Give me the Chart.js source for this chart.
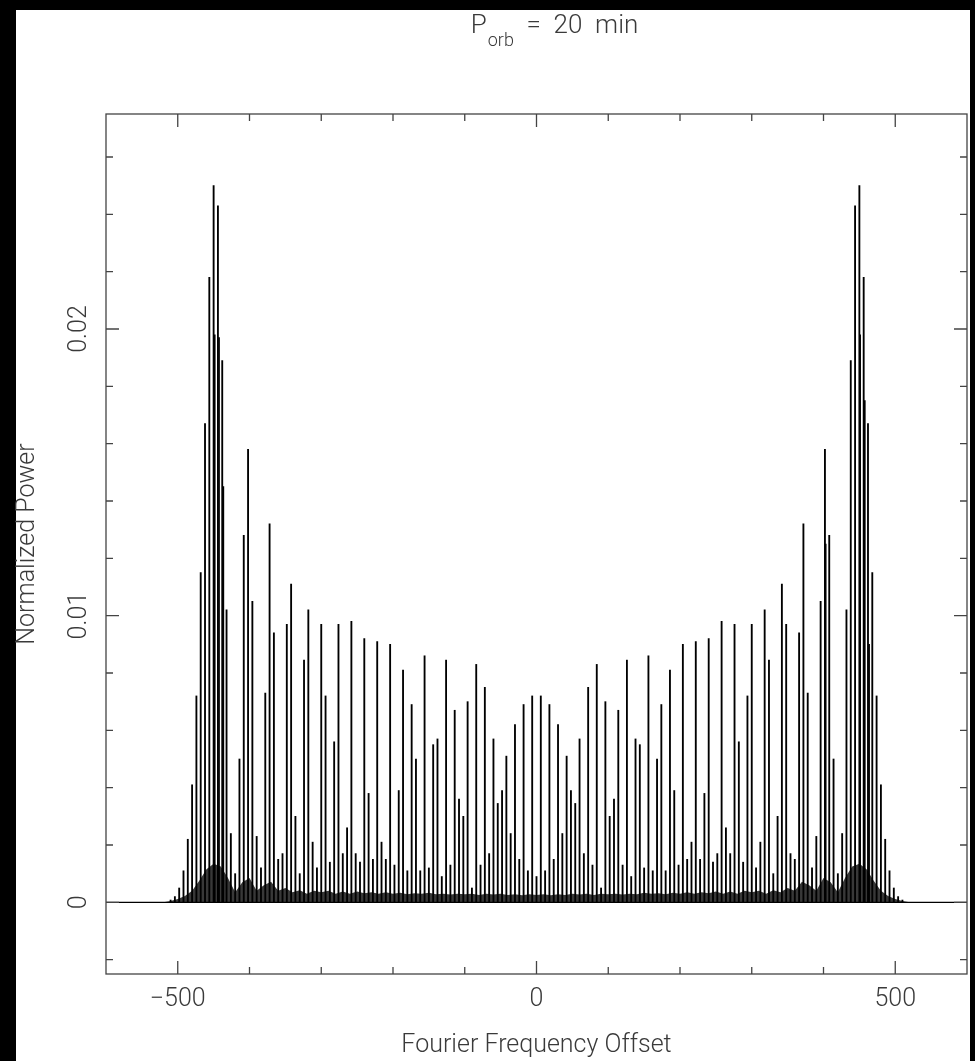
<!DOCTYPE html>
<html lang="en">

<head>
    <meta charset="UTF-8">
    <title>P_orb = 20 min</title>
    <script src="https://cdn.jsdelivr.net/npm/chart.js@4.4.0/dist/chart.umd.min.js"></script>
    <style>
        html, body {
            margin: 0;
            padding: 0;
            background: #000;
        }
        .graph-container {
            width: 975px;
            height: 1061px;
        }
    </style>
</head>

<body>
    <div class="graph-container">
        <canvas id="myChart" width="975" height="1061"></canvas>
    </div>

    <script>
        // sideband frequencies (Fourier frequency offset)
        const sidebandFreq = [
            -510, -504, -498, -492, -486, -480, -474, -468, -462, -456,
            -450, -444, -438, -432, -426, -420, -414, -408, -402, -396,
            -390, -384, -378, -372, -366, -360, -354, -348, -342, -336,
            -330, -324, -318, -312, -306, -300, -294, -288, -282, -276,
            -270, -264, -258, -252, -246, -240, -234, -228, -222, -216,
            -210, -204, -198, -192, -186, -180, -174, -168, -162, -156,
            -150, -144, -138, -132, -126, -120, -114, -108, -102, -96,
            -90, -84, -78, -72, -66, -60, -54, -48, -42, -36,
            -30, -24, -18, -12, -6, 0, 6, 12, 18, 24,
            30, 36, 42, 48, 54, 60, 66, 72, 78, 84,
            90, 96, 102, 108, 114, 120, 126, 132, 138, 144,
            150, 156, 162, 168, 174, 180, 186, 192, 198, 204,
            210, 216, 222, 228, 234, 240, 246, 252, 258, 264,
            270, 276, 282, 288, 294, 300, 306, 312, 318, 324,
            330, 336, 342, 348, 354, 360, 366, 372, 378, 384,
            390, 396, 402, 408, 414, 420, 426, 432, 438, 444,
            450, 456, 462, 468, 474, 480, 486, 492, 498, 504,
            510
        ];
        const sidebandPower = [
            0.00008, 0.0002, 0.0005, 0.0011, 0.0022, 0.0041, 0.0072, 0.0115, 0.0167, 0.0218,
            0.0250, 0.0243, 0.0189, 0.0102, 0.0024, 0.0010, 0.0050, 0.0128, 0.0158, 0.0105,
            0.0023, 0.0012, 0.0073, 0.0132, 0.0094, 0.0015, 0.0017, 0.0097, 0.0111, 0.0030,
            0.0010, 0.00845, 0.0102, 0.0021, 0.0012, 0.0097, 0.0072, 0.0014, 0.0056, 0.0097,
            0.0017, 0.0026, 0.0098, 0.0017, 0.0014, 0.0092, 0.0038, 0.0015, 0.0091, 0.0021,
            0.0015, 0.0090, 0.0013, 0.0039, 0.0081, 0.0011, 0.0069, 0.0050, 0.0011, 0.0086,
            0.0012, 0.0055, 0.0057, 0.0009, 0.00845, 0.0013, 0.0067, 0.0036, 0.0030, 0.0070,
            0.0005, 0.0083, 0.0013, 0.0075, 0.0017, 0.0057, 0.00345, 0.0039, 0.0051, 0.0024,
            0.0062, 0.0015, 0.0069, 0.0011, 0.0072, 0.0009, 0.0072, 0.0011, 0.0069, 0.0015,
            0.0062, 0.0024, 0.0051, 0.0039, 0.00345, 0.0057, 0.0017, 0.0075, 0.0013, 0.0083,
            0.0005, 0.0070, 0.0030, 0.0036, 0.0067, 0.0013, 0.00845, 0.0009, 0.0057, 0.0055,
            0.0012, 0.0086, 0.0011, 0.0050, 0.0069, 0.0011, 0.0081, 0.0039, 0.0013, 0.0090,
            0.0015, 0.0021, 0.0091, 0.0015, 0.0038, 0.0092, 0.0014, 0.0017, 0.0098, 0.0026,
            0.0017, 0.0097, 0.0056, 0.0014, 0.0072, 0.0097, 0.0012, 0.0021, 0.0102, 0.00845,
            0.0010, 0.0030, 0.0111, 0.0097, 0.0017, 0.0015, 0.0094, 0.0132, 0.0073, 0.0012,
            0.0023, 0.0105, 0.0158, 0.0128, 0.0050, 0.0010, 0.0024, 0.0102, 0.0189, 0.0243,
            0.0250, 0.0218, 0.0167, 0.0115, 0.0072, 0.0041, 0.0022, 0.0011, 0.0005, 0.0002,
            0.00008
        ];

        // second lines sitting right next to the strongest sidebands
        const splitFreq = [-448.5, -442.5, -436.5, 403, 451, 457.5, 463.5];
        const splitPower = [0.0198, 0.0197, 0.0145, 0.0125, 0.0198, 0.0175, 0.0090];

        // dense low-level clutter along the base
        const noiseFreq = [
            -520, -510, -500, -490, -480, -470, -460, -450, -440, -430,
            -420, -410, -400, -390, -380, -370, -360, -350, -340, -330,
            -320, -310, -300, -290, -280, -270, -260, -250, -240, -230,
            -220, -210, -200, -190, -180, -170, -160, -150, -140, -130,
            -120, -110, -100, -90, -80, -70, -60, -50, -40, -30,
            -20, -10, 0, 10, 20, 30, 40, 50, 60, 70,
            80, 90, 100, 110, 120, 130, 140, 150, 160, 170,
            180, 190, 200, 210, 220, 230, 240, 250, 260, 270,
            280, 290, 300, 310, 320, 330, 340, 350, 360, 370,
            380, 390, 400, 410, 420, 430, 440, 450, 460, 470,
            480, 490, 500, 510, 520
        ];
        const noisePower = [
            0, 0.00005, 0.00012, 0.00022, 0.0004, 0.00075, 0.00115, 0.00135, 0.00125, 0.00085,
            0.00035, 0.0007, 0.00085, 0.0004, 0.0006, 0.00072, 0.0004, 0.0005, 0.00035, 0.00042,
            0.0003, 0.0004, 0.00035, 0.0004, 0.0003, 0.00038, 0.0003, 0.00038, 0.00032, 0.00035,
            0.0003, 0.00035, 0.0003, 0.00033, 0.00028, 0.00032, 0.0003, 0.00033, 0.00028, 0.0003,
            0.00027, 0.0003, 0.00028, 0.0003, 0.00026, 0.0003, 0.00027, 0.0003, 0.00026, 0.00028,
            0.00025, 0.00028, 0.00026, 0.00028, 0.00025, 0.00028, 0.00026, 0.0003, 0.00027, 0.0003,
            0.00026, 0.0003, 0.00028, 0.0003, 0.00027, 0.0003, 0.00028, 0.00033, 0.0003, 0.00032,
            0.00028, 0.00033, 0.0003, 0.00035, 0.0003, 0.00035, 0.00032, 0.00038, 0.0003, 0.00038,
            0.0003, 0.0004, 0.00035, 0.0004, 0.0003, 0.00042, 0.00035, 0.0005, 0.0004, 0.00072,
            0.0006, 0.0004, 0.00085, 0.0007, 0.00035, 0.00085, 0.00125, 0.00135, 0.00115, 0.00075,
            0.0004, 0.00022, 0.00012, 0.00005, 0
        ];

        // axes
        const xRange = [-600, 600];
        const yRange = [-0.0025, 0.0275];
        const xMajorTicks = [-500, 0, 500];
        const xTickLabels = ['\u2212500', '0', '500'];
        const xMinorTicks = [-400, -300, -200, -100, 100, 200, 300, 400];
        const yMajorTicks = [0, 0.01, 0.02];
        const yTickLabels = ['0', '0.01', '0.02'];
        const yMinorTicks = [-0.002, 0.002, 0.004, 0.006, 0.008, 0.012, 0.014, 0.016, 0.018, 0.022, 0.024, 0.026];
        const xTitle = 'Fourier Frequency Offset';
        const yTitle = 'Normalized Power';

        const FONT = '"Roboto", "Liberation Sans", sans-serif';
        const TEXT_COLOR = '#3a3a3a';

        const toPoints = (xs, ys) => xs.map((x, i) => ({ x: x, y: ys[i] }));

        const framePlugin = {
            id: 'pgFrame',
            beforeDraw(chart) {
                const c = chart.ctx;
                c.save();
                c.fillStyle = '#000';
                c.fillRect(0, 0, chart.width, chart.height);
                c.fillStyle = '#fff';
                c.fillRect(16, 10, 954, chart.height - 10);
                c.restore();
            },
            afterDraw(chart) {
                const c = chart.ctx;
                const a = chart.chartArea;
                const xs = chart.scales.x;
                const ys = chart.scales.y;
                c.save();
                c.strokeStyle = '#444';
                c.lineWidth = 1.3;
                c.strokeRect(a.left, a.top, a.right - a.left, a.bottom - a.top);

                c.beginPath();
                const xTick = (v, len) => {
                    const px = xs.getPixelForValue(v);
                    c.moveTo(px, a.bottom); c.lineTo(px, a.bottom - len);
                    c.moveTo(px, a.top); c.lineTo(px, a.top + len);
                };
                const yTick = (v, len) => {
                    const py = ys.getPixelForValue(v);
                    c.moveTo(a.left, py); c.lineTo(a.left + len, py);
                    c.moveTo(a.right, py); c.lineTo(a.right - len, py);
                };
                xMajorTicks.forEach(v => xTick(v, 13));
                xMinorTicks.forEach(v => xTick(v, 7));
                yMajorTicks.forEach(v => yTick(v, 13));
                yMinorTicks.forEach(v => yTick(v, 7));
                c.stroke();

                c.fillStyle = TEXT_COLOR;
                c.font = '300 25px ' + FONT;
                c.textAlign = 'center';
                c.textBaseline = 'middle';
                xMajorTicks.forEach((v, i) => {
                    c.fillText(xTickLabels[i], xs.getPixelForValue(v), 1000);
                });
                yMajorTicks.forEach((v, i) => {
                    c.save();
                    c.translate(80, ys.getPixelForValue(v));
                    c.rotate(-Math.PI / 2);
                    c.fillText(yTickLabels[i], 0, 0);
                    c.restore();
                });

                const midX = (a.left + a.right) / 2;
                const midY = (a.top + a.bottom) / 2;
                c.fillText(xTitle, midX, 1046);
                c.save();
                c.translate(28, midY);
                c.rotate(-Math.PI / 2);
                c.fillText(yTitle, 0, 0);
                c.restore();

                // title: P_orb = 20 min
                c.textAlign = 'left';
                c.textBaseline = 'alphabetic';
                const bigFont = '300 26px ' + FONT;
                const subFont = '300 18px ' + FONT;
                c.font = bigFont;
                const wP = c.measureText('P').width;
                const rest = '  =  20  min';
                const wRest = c.measureText(rest).width;
                c.font = subFont;
                const wSub = c.measureText('orb').width;
                let x0 = 554 - (wP + wSub + wRest) / 2;
                c.font = bigFont;
                c.fillText('P', x0, 33);
                c.font = subFont;
                c.fillText('orb', x0 + wP + 1, 46);
                c.font = bigFont;
                c.fillText(rest, x0 + wP + wSub + 1, 33);
                c.restore();
            }
        };

        const ctx = document.getElementById('myChart').getContext('2d');
        const chart = new Chart(ctx, {
            type: 'bar',
            data: {
                datasets: [
                    {
                        type: 'bar',
                        label: 'sidebands',
                        data: toPoints(sidebandFreq, sidebandPower),
                        backgroundColor: '#000',
                        barThickness: 1.2,
                        grouped: false,
                        order: 1
                    },
                    {
                        type: 'bar',
                        label: 'split lines',
                        data: toPoints(splitFreq, splitPower),
                        backgroundColor: '#000',
                        barThickness: 1.1,
                        grouped: false,
                        order: 2
                    },
                    {
                        type: 'line',
                        label: 'noise',
                        data: toPoints(noiseFreq, noisePower),
                        fill: 'origin',
                        backgroundColor: 'rgba(0,0,0,0.78)',
                        borderWidth: 0,
                        pointRadius: 0,
                        tension: 0,
                        order: 3
                    },
                    {
                        type: 'line',
                        label: 'baseline',
                        data: toPoints(xRange, [0, 0]),
                        borderColor: '#000',
                        borderWidth: 1.4,
                        pointRadius: 0,
                        order: 4
                    }
                ]
            },
            options: {
                responsive: false,
                animation: false,
                devicePixelRatio: 1,
                layout: {
                    padding: { left: 106, top: 114, right: 8, bottom: 87 }
                },
                plugins: {
                    legend: { display: false },
                    tooltip: { enabled: false },
                    title: { display: false }
                },
                scales: {
                    x: {
                        type: 'linear',
                        display: false,
                        offset: false,
                        min: xRange[0],
                        max: xRange[1]
                    },
                    y: {
                        type: 'linear',
                        display: false,
                        min: yRange[0],
                        max: yRange[1]
                    }
                }
            },
            plugins: [framePlugin]
        });
    </script>
</body>

</html>
